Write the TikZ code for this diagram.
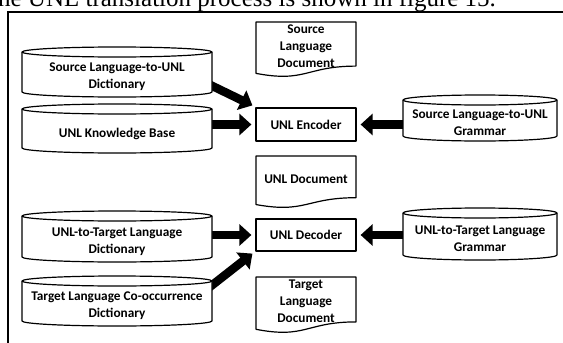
\documentclass[tikz,border=0pt]{standalone}
\usepackage{fontspec}
\setmainfont{Liberation Serif}
\newfontfamily\labelfont{Carlito}
\usetikzlibrary{arrows.meta,calc,backgrounds}

\tikzset{
  outline/.style={draw=black,line width=1.2pt,fill=white,line join=round},
  lbl/.style={font=\labelfont\bfseries\fontsize{13.3}{17}\selectfont,align=center,
    inner sep=0pt,text=black},
  bigarrow/.style={line width=8.5pt,-{Triangle[width=21pt,length=12pt]},black},
}

% data store drawn as a cylinder: name, left, right, top, bottom, label
\newcommand\store[6]{%
  \pgfmathsetmacro\cx{(#2+#3)/2}%
  \pgfmathsetmacro\rx{(#3-#2)/2}%
  \pgfmathsetmacro\ya{#4+5}%
  \pgfmathsetmacro\yb{#5-5}%
  \pgfmathsetmacro\ym{(#4+10+#5)/2}%
  \pgfmathsetmacro\hh{#5-#4-10}%
  \filldraw[outline] (#2,\ya) -- (#2,\yb)
    arc[start angle=180,end angle=360,x radius=\rx pt,y radius=5pt]
    -- (#3,\ya) arc[start angle=0,end angle=180,x radius=\rx pt,y radius=5pt] -- cycle;
  \draw[outline,fill=none] (#2,\ya) arc[start angle=180,end angle=360,x radius=\rx pt,y radius=5pt];
  \node[lbl,minimum width=2*\rx pt,minimum height=\hh pt] (#1) at (\cx,\ym) {#6};
}

% document sheet with a wavy lower edge: name, left, right, top, height, label
\newcommand\sheet[6]{%
  \pgfmathsetmacro\cx{(#2+#3)/2}%
  \pgfmathsetmacro\yr{#4+0.802*#5}%
  \pgfmathsetmacro\yl{#4+0.934*#5}%
  \pgfmathsetmacro\yc{#4+1.107*#5}%
  \pgfmathsetmacro\ym{#4+0.44*#5}%
  \filldraw[outline] (#2,#4) -- (#3,#4) -- (#3,\yr)
    .. controls (\cx,\yr) and (\cx,\yc) .. (#2,\yl) -- cycle;
  \node[lbl,minimum width=#3 pt-#2 pt] (#1) at (\cx,\ym) {#6};
}

\begin{document}
\begin{tikzpicture}[x=1pt,y=-1pt]
\useasboundingbox (0,0) rectangle (563,343);
\clip (0,0) rectangle (563,343);

% running text above the frame
\node[anchor=base west,inner sep=0pt,font=\fontsize{25}{30}\selectfont] (caption) at (-9,6)
  {the UNL translation process is shown in figure 15.};

% frame
\draw[line width=1.2pt] (8,350) -- (8,12) -- (570,12);

% stores
\store{dictA}{22}{212}{47}{97}{Source Language-to-UNL\\Dictionary}
\store{kb}{22}{212}{104}{153}{UNL Knowledge Base}
\store{gramA}{403}{557}{95}{141}{Source Language-to-UNL\\Grammar}
\store{dictB}{22}{212}{211}{262}{UNL-to-Target Language\\Dictionary}
\store{gramB}{403}{557}{208}{260}{UNL-to-Target Language\\Grammar}
\store{cooc}{22}{212}{276}{326}{Target Language Co-occurrence\\Dictionary}

% documents
\sheet{srcdoc}{256}{356}{22}{55}{Source\\Language\\Document}
\sheet{unldoc}{256}{356}{156}{52}{UNL Document}
\sheet{tgtdoc}{256}{356}{277}{56}{Target\\Language\\Document}

% processors
\node[outline,lbl,minimum width=100pt,minimum height=33pt] (enc) at (306,124.5) {UNL Encoder};
\node[outline,lbl,minimum width=100pt,minimum height=32pt] (dec) at (306,235) {UNL Decoder};

% flows
\begin{scope}[on background layer]
\draw[bigarrow] ($(dictA.east)+(-6,6)$) -- ($(enc.north west)+(-3,-2)$);
\draw[bigarrow] (kb.east |- enc.west) -- ($(enc.west)+(-4,0)$);
\draw[bigarrow] (gramA.west |- enc.east) -- ($(enc.east)+(4,0)$);
\draw[bigarrow] (dictB.east |- dec.west) -- ($(dec.west)+(-4,0)$);
\draw[bigarrow] ($(cooc.north east)+(-6,4)$) -- ($(dec.south west)+(-3,2)$);
\draw[bigarrow] (gramB.west |- dec.east) -- ($(dec.east)+(4,0)$);
\end{scope}
\end{tikzpicture}
\end{document}
